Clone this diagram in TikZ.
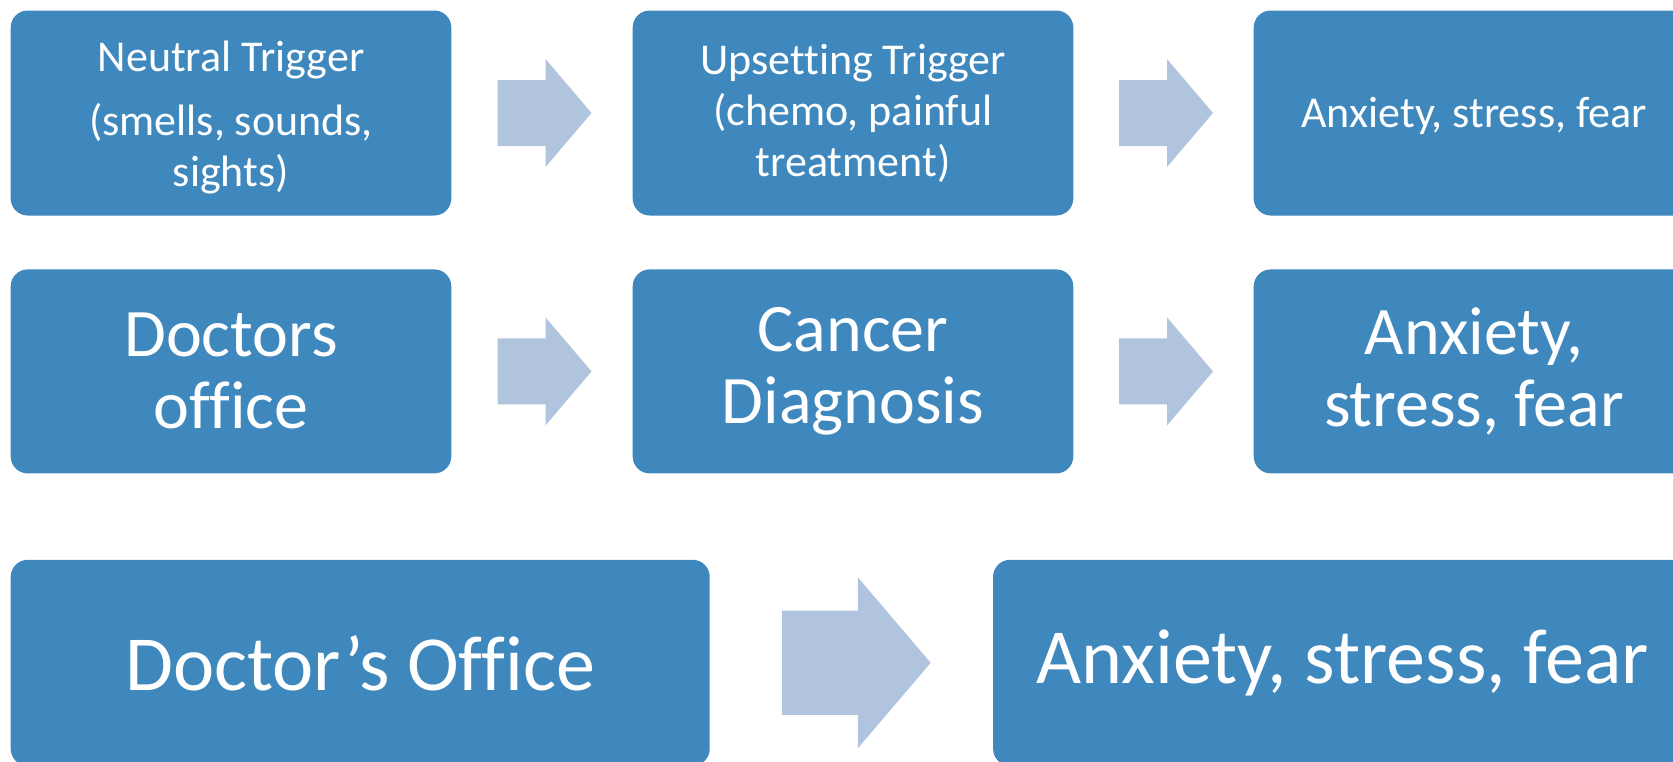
\documentclass[tikz,border=0pt]{standalone}
\usepackage{fontspec}
\setmainfont{Carlito}[Ligatures=NoCommon]
\usepackage{tikz}
\usetikzlibrary{positioning,calc}
\definecolor{stepBlue}{HTML}{3E88BE}
\definecolor{flowArrow}{HTML}{B0C4DE}

\begin{document}
\begin{tikzpicture}[
  x=1pt,
  y=1pt,
  every stepbox/.style={
    fill=stepBlue,
    rounded corners=17pt,
    text=white,
    inner sep=0pt,
    align=center,
  },
  small stepbox/.style={
    every stepbox/.try,
    minimum width=440.6pt,
    minimum height=205pt,
    font=\fontsize{44}{51}\selectfont,
  },
  middle stepbox/.style={
    every stepbox/.try,
    minimum width=440.6pt,
    minimum height=204pt,
    font=\fontsize{68}{72}\selectfont,
  },
  wide stepbox/.style={
    every stepbox/.try,
    minimum width=699pt,
    minimum height=206pt,
    font=\fontsize{78}{90}\selectfont,
  },
  flowarrow/.pic={
    \fill[flowArrow] (-47,-33) -- (1,-33) -- (1,-54) -- (47,0)
      -- (1,54) -- (1,33) -- (-47,33) -- cycle;
  }
]
\path[use as bounding box] (0,0) rectangle (1673,-761);
\clip (0,0) rectangle (1673,-761);

% first row
\node[small stepbox] (neutral) at (231,-113)
  {\rule{0pt}{40pt}Neutral Trigger\\[13pt](smells, sounds,\\sights)};
\node[small stepbox,right=181pt of neutral] (upset)
  {Upsetting Trigger\\(chemo, painful\\treatment)};
\node[small stepbox,right=180pt of upset] (feelA)
  {\rule{0pt}{37pt}Anxiety, stress, fear};

% second row
\node[middle stepbox,below=53.5pt of neutral] (office) {Doctors\\office};
\node[middle stepbox,below=53.5pt of upset] (diagnosis) {Cancer\\Diagnosis};
\node[middle stepbox,below=53.5pt of feelA] (feelB) {Anxiety,\\stress, fear};

% third row
\node[wide stepbox,anchor=north west] (doctor)
  at ($(office.south west)+(0,-86pt)$) {Doctor’s Office};
\node[wide stepbox,right=283pt of doctor] (feelC) {Anxiety, stress, fear};

\foreach \a/\b in {neutral/upset,upset/feelA,office/diagnosis,diagnosis/feelB}
  \pic at ($(\a.east)!0.5!(\b.west)+(2.5,0)$) {flowarrow};
\pic[scale=1.58] at ($(doctor.east)!0.5!(feelC.west)+(5,0)$) {flowarrow};
\end{tikzpicture}
\end{document}
